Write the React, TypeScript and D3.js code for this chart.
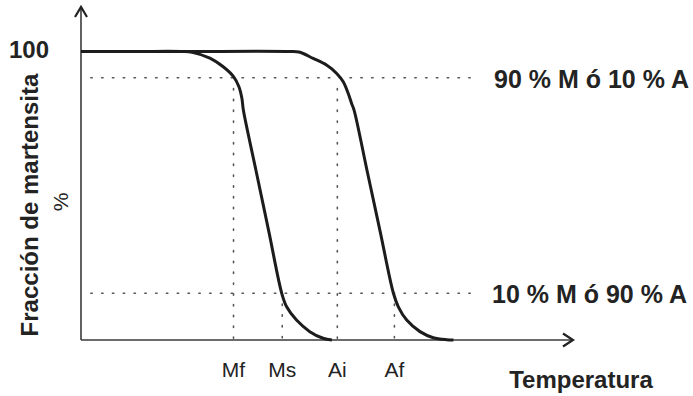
import React from "react";
import * as d3 from "d3";

// Cooling curve (martensite forms): [temperature, fraction %]
const coolingCurve: [number, number][] = [
  [0, 100], [11, 100], [20.5, 100], [22.6, 99.7], [26.2, 97.7], [28.9, 94.7], [31.0, 91.3],
  [32.1, 87.8], [32.7, 83.8], [33.0, 79.7], [35.6, 58.5], [38.2, 37.4], [40.8, 16.2],
  [41.8, 11.5], [43.8, 6.9], [46.5, 2.9], [49.2, 0.6], [51.0, 0],
];
// Heating curve (austenite forms)
const heatingCurve: [number, number][] = [
  [0, 100], [20, 100], [42.3, 100], [44.3, 99.8], [47.2, 97.6], [49.9, 95.3], [51.97, 92.4],
  [53.3, 89.5], [54.3, 85.5], [55.0, 82.0], [55.5, 79.7], [58.17, 58.5], [60.83, 37.4],
  [63.5, 16.2], [64.5, 11.5], [66.2, 6.9], [68.9, 2.9], [71.6, 0.8], [74.3, 0.1], [75.7, 0],
];
const tickNames = ["Mf", "Ms", "Ai", "Af"];
const tickTemps = [31.0, 40.9, 52.1, 63.7];
const tickLevelIdx = [0, 1, 0, 1]; // which guide level each vertical starts from
const levelValues = [90.9, 16.2];
const levelLabels = ["90 % M ó 10 % A", "10 % M ó 90 % A"];
const levelLabelX = [494, 492];
const guideStart = 2;
const guideEnd = 79.1;
const yTopLabel = "100";
const yTopValue = 100;

const W = 693;
const H = 396;

export default function App() {
  const x = d3.scaleLinear().domain([0, 100]).range([81, 573]);
  const y = d3.scaleLinear().domain([0, 100]).range([340, 51.5]);
  const line = d3
    .line<[number, number]>()
    .x((d) => x(d[0]))
    .y((d) => y(d[1]))
    .curve(d3.curveCatmullRom.alpha(0.5));

  const font = "'Liberation Sans', Arial, Helvetica, sans-serif";
  const textColor = "#232323";
  const dot = "1.4 9.4";
  const yTip = y.invert(7);

  return (
    <div style={{ position: "fixed", left: 0, top: 0 }}>
      <svg width={W} height={H} style={{ display: "block", background: "#fff" }}>
        {/* guide dotted lines */}
        {levelValues.map((v, i) => (
          <line
            key={"h" + i}
            x1={x(guideStart)}
            x2={x(guideEnd)}
            y1={y(v)}
            y2={y(v)}
            stroke="#555"
            strokeWidth={1.6}
            strokeDasharray={dot}
            strokeLinecap="round"
          />
        ))}
        {tickTemps.map((t, i) => (
          <line
            key={"v" + i}
            x1={x(t)}
            x2={x(t)}
            y1={y(levelValues[tickLevelIdx[i]]) + 10.8}
            y2={y(0)}
            stroke="#555"
            strokeWidth={1.6}
            strokeDasharray={dot}
            strokeLinecap="round"
          />
        ))}

        {/* axes */}
        <line x1={x(0)} x2={x(0)} y1={y(0)} y2={y(yTip)} stroke="#3a3a3a" strokeWidth={1.6} />
        <line x1={x(0)} x2={x(100)} y1={y(0)} y2={y(0)} stroke="#3a3a3a" strokeWidth={1.6} />
        <path
          d={`M${x(0) - 6},${y(yTip) + 10} L${x(0)},${y(yTip)} L${x(0) + 6},${y(yTip) + 10}`}
          fill="none"
          stroke="#222"
          strokeWidth={2.2}
        />
        <path
          d={`M${x(100) - 10},${y(0) - 6.5} L${x(100)},${y(0)} L${x(100) - 10},${y(0) + 6.5}`}
          fill="none"
          stroke="#222"
          strokeWidth={2.2}
        />

        {/* curves */}
        <path d={line(coolingCurve) || ""} fill="none" stroke="#1c1c1c" strokeWidth={3} strokeLinejoin="round" />
        <path d={line(heatingCurve) || ""} fill="none" stroke="#1c1c1c" strokeWidth={3} strokeLinejoin="round" />

        {/* y top label */}
        <text
          x={49}
          y={y(yTopValue) + 6.5}
          textAnchor="end"
          fontFamily={font}
          fontWeight="bold"
          fontSize={24}
          fill={textColor}
        >
          {yTopLabel}
        </text>

        {/* level labels */}
        {levelValues.map((v, i) => (
          <text
            key={"l" + i}
            x={levelLabelX[i]}
            y={y(v) + 10}
            fontFamily={font}
            fontWeight="bold"
            fontSize={25}
            fill={textColor}
          >
            {levelLabels[i]}
          </text>
        ))}

        {/* tick labels */}
        {tickTemps.map((t, i) => (
          <text
            key={"t" + i}
            x={x(t)}
            y={377}
            textAnchor="middle"
            fontFamily={font}
            fontSize={21}
            fill={textColor}
          >
            {tickNames[i]}
          </text>
        ))}

        {/* axis titles */}
        <text
          x={581}
          y={388}
          textAnchor="middle"
          fontFamily={font}
          fontWeight="bold"
          fontSize={24}
          fill={textColor}
        >
          Temperatura
        </text>
        <text
          transform="translate(37.5,205) rotate(-90)"
          textAnchor="middle"
          fontFamily={font}
          fontWeight="bold"
          fontSize={24}
          fill={textColor}
        >
          Fracción de martensita
        </text>
        <text
          transform="translate(68,202) rotate(-90)"
          textAnchor="middle"
          fontFamily={font}
          fontSize={21}
          fill={textColor}
        >
          %
        </text>
      </svg>
    </div>
  );
}
